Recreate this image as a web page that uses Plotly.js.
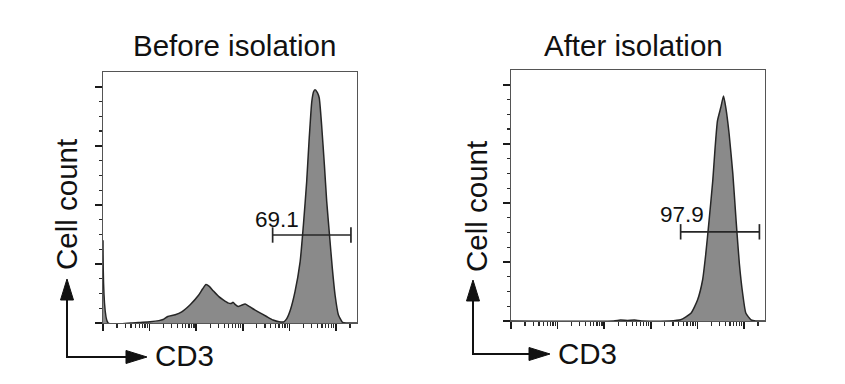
<!DOCTYPE html>
<html>
<head>
<meta charset="utf-8">
<script src="https://cdn.plot.ly/plotly-3.0.1.min.js"></script>
<style>html,body{margin:0;padding:0;background:#fff;}#chart{width:845px;height:384px;}</style>
</head>
<body>
<div id="chart"></div>
<script>
// ---- data (CD3 in log decades, cell count normalised) ----
const panelTitles = ["Before isolation", "After isolation"];
const gateLabels = ["69.1", "97.9"];
const xAxisLabel = "CD3";
const yAxisLabel = "Cell count";

const beforeX = [0.00, 0.11, 0.60, 0.80, 1.01, 1.20, 1.29, 1.39, 1.55, 1.69, 1.87, 2.05, 2.14, 2.21, 2.28, 2.37, 2.48, 2.58, 2.68, 2.75, 2.79, 2.84, 2.90, 2.97, 3.05, 3.12, 3.20, 3.33, 3.51, 3.65, 3.78, 3.88, 3.94, 4.02, 4.12, 4.23, 4.30, 4.37, 4.42, 4.48, 4.52, 4.55, 4.60, 4.64, 4.69, 4.75, 4.80, 4.86, 4.92, 4.98, 5.05, 5.14, 5.22, 5.45];
const beforeY = [1.40, 0.00, 0.00, 0.01, 0.02, 0.04, 0.06, 0.11, 0.14, 0.19, 0.31, 0.47, 0.58, 0.65, 0.62, 0.54, 0.45, 0.39, 0.34, 0.33, 0.35, 0.31, 0.28, 0.30, 0.32, 0.29, 0.25, 0.19, 0.11, 0.05, 0.02, 0.02, 0.07, 0.22, 0.53, 1.04, 1.66, 2.39, 3.07, 3.75, 3.92, 3.95, 3.90, 3.81, 3.36, 2.68, 2.06, 1.49, 0.93, 0.47, 0.14, 0.01, 0.00, 0.00];

const afterX = [0.00, 2.20, 2.35, 2.50, 2.65, 2.80, 3.40, 3.64, 3.86, 4.00, 4.11, 4.18, 4.25, 4.33, 4.38, 4.43, 4.50, 4.56, 4.61, 4.68, 4.76, 4.83, 4.90, 4.97, 5.04, 5.15, 5.25, 5.45];
const afterY = [0.00, 0.00, 0.015, 0.01, 0.015, 0.00, 0.00, 0.02, 0.13, 0.35, 0.69, 1.14, 1.70, 2.38, 2.94, 3.39, 3.61, 3.81, 3.61, 3.17, 2.49, 1.70, 0.97, 0.47, 0.13, 0.02, 0.00, 0.00];

// gate bars: [start, end] on CD3 axis and height
const gateBefore = [3.64, 5.32];
const gateAfter = [3.64, 5.33];
const gateHeights = [1.49, 1.51];

// axis ticks
const xMajorTicks = [0, 1, 2, 3, 4, 5];
const yMajorTicks = [0, 1, 2, 3, 4];
const xRange = [0, 5.45];
const yRange = [0, 4.25];

// ---- build ----
const W = 845, H = 384;
const px = v => v / W;
const py = v => 1 - v / H;

const xMinorTicks = [];
for (let d = 0; d < 6; d++) for (let m = 2; m <= 9; m++) {
  const t = d + Math.log10(m);
  if (t < xRange[1]) xMinorTicks.push(t);
}
const yMinorTicks = [];
for (let d = 0; d < 4; d++) for (let q = 1; q <= 3; q++) yMinorTicks.push(d + q * 0.25);

const FONT = "Liberation Sans, Arial, Helvetica, sans-serif";
const TXT = "#111111";
const FILL = "#8a8a8a";
const LINE = "#262626";

function histTrace(x, y, xa, ya) {
  return {x: x, y: y, xaxis: xa, yaxis: ya, type: "scatter", mode: "lines",
    fill: "tozeroy", fillcolor: FILL,
    line: {color: LINE, width: 1.5, shape: "spline", smoothing: 0.5},
    hoverinfo: "skip"};
}
function gateTrace(g, h, xa, ya) {
  return {x: g, y: [h, h], xaxis: xa, yaxis: ya, type: "scatter", mode: "lines+markers",
    line: {color: LINE, width: 1.7},
    marker: {symbol: "line-ns", size: 11, line: {color: LINE, width: 1.7}},
    hoverinfo: "skip"};
}

function xAxis(domain) {
  return {domain: domain, range: xRange, tickmode: "array", tickvals: xMajorTicks,
    showticklabels: false, ticks: "outside", ticklen: 7, tickwidth: 1.5, tickcolor: "#1a1a1a",
    minor: {tickmode: "array", tickvals: xMinorTicks, ticks: "outside", ticklen: 3.5, tickwidth: 1.2, tickcolor: "#2a2a2a", showgrid: false},
    showgrid: false, zeroline: false, showline: true, mirror: true, linecolor: "#555", linewidth: 1, fixedrange: true};
}
function yAxis(domain, anchor) {
  return {domain: domain, range: yRange, anchor: anchor, tickmode: "array", tickvals: yMajorTicks,
    showticklabels: false, ticks: "outside", ticklen: 7, tickwidth: 1.5, tickcolor: "#1a1a1a",
    minor: {tickmode: "array", tickvals: yMinorTicks, ticks: "outside", ticklen: 3.5, tickwidth: 1.2, tickcolor: "#2a2a2a", showgrid: false},
    showgrid: false, zeroline: false, showline: true, mirror: true, linecolor: "#555", linewidth: 1, fixedrange: true};
}

const data = [
  histTrace(beforeX, beforeY, "x", "y"),
  gateTrace(gateBefore, gateHeights[0], "x", "y"),
  histTrace(afterX, afterY, "x2", "y2"),
  gateTrace(gateAfter, gateHeights[1], "x2", "y2")
];

function txt(text, x, y, size, extra) {
  return Object.assign({text: text, xref: "paper", yref: "paper", x: px(x), y: py(y),
    xanchor: "center", yanchor: "middle", showarrow: false,
    font: {family: FONT, size: size, color: TXT}}, extra || {});
}

const annotations = [
  txt(panelTitles[0], 234.5, 46, 29.5),
  txt(panelTitles[1], 633, 46, 29.5),
  txt(yAxisLabel, 66, 205, 29.5, {textangle: -90}),
  txt(yAxisLabel, 476, 206, 29.5, {textangle: -90}),
  txt(xAxisLabel, 184, 355, 29.5),
  txt(xAxisLabel, 587.5, 353, 29.5),
  {text: gateLabels[0], xref: "x", yref: "y", x: 3.73, y: 1.76, xanchor: "center", yanchor: "middle",
   showarrow: false, font: {family: FONT, size: 22.5, color: TXT}},
  {text: gateLabels[1], xref: "x2", yref: "y2", x: 3.66, y: 1.81, xanchor: "center", yanchor: "middle",
   showarrow: false, font: {family: FONT, size: 22.5, color: TXT}}
];

// L-shaped axis arrows (decoration, paper coordinates)
function arrowShapes(cx, cy, topTip, rightTip) {
  const head = 21, half = 6.5;
  const P = (x, y) => px(x).toFixed(5) + "," + py(y).toFixed(5);
  return [
    {type: "path", xref: "paper", yref: "paper",
     path: "M" + P(cx, topTip + head) + " L" + P(cx, cy) + " L" + P(rightTip - head, cy),
     line: {color: "#111", width: 2}},
    {type: "path", xref: "paper", yref: "paper",
     path: "M" + P(cx, topTip) + " L" + P(cx - half, topTip + head) + " L" + P(cx + half, topTip + head) + " Z",
     fillcolor: "#111", line: {color: "#111", width: 1}},
    {type: "path", xref: "paper", yref: "paper",
     path: "M" + P(rightTip, cy) + " L" + P(rightTip - head, cy - half) + " L" + P(rightTip - head, cy + half) + " Z",
     fillcolor: "#111", line: {color: "#111", width: 1}}
  ];
}
const shapes = [].concat(arrowShapes(67, 357, 279, 147), arrowShapes(473, 354, 280, 550));

const layout = {
  width: W, height: H,
  margin: {l: 0, r: 0, t: 0, b: 0, pad: 0},
  paper_bgcolor: "#ffffff", plot_bgcolor: "#ffffff",
  showlegend: false,
  xaxis: Object.assign(xAxis([px(103), px(357)]), {anchor: "y"}),
  yaxis: yAxis([py(323), py(72)], "x"),
  xaxis2: Object.assign(xAxis([px(511), px(765)]), {anchor: "y2"}),
  yaxis2: yAxis([py(321), py(70)], "x2"),
  annotations: annotations,
  shapes: shapes
};

Plotly.newPlot("chart", data, layout, {staticPlot: true, displayModeBar: false});
</script>
</body>
</html>
